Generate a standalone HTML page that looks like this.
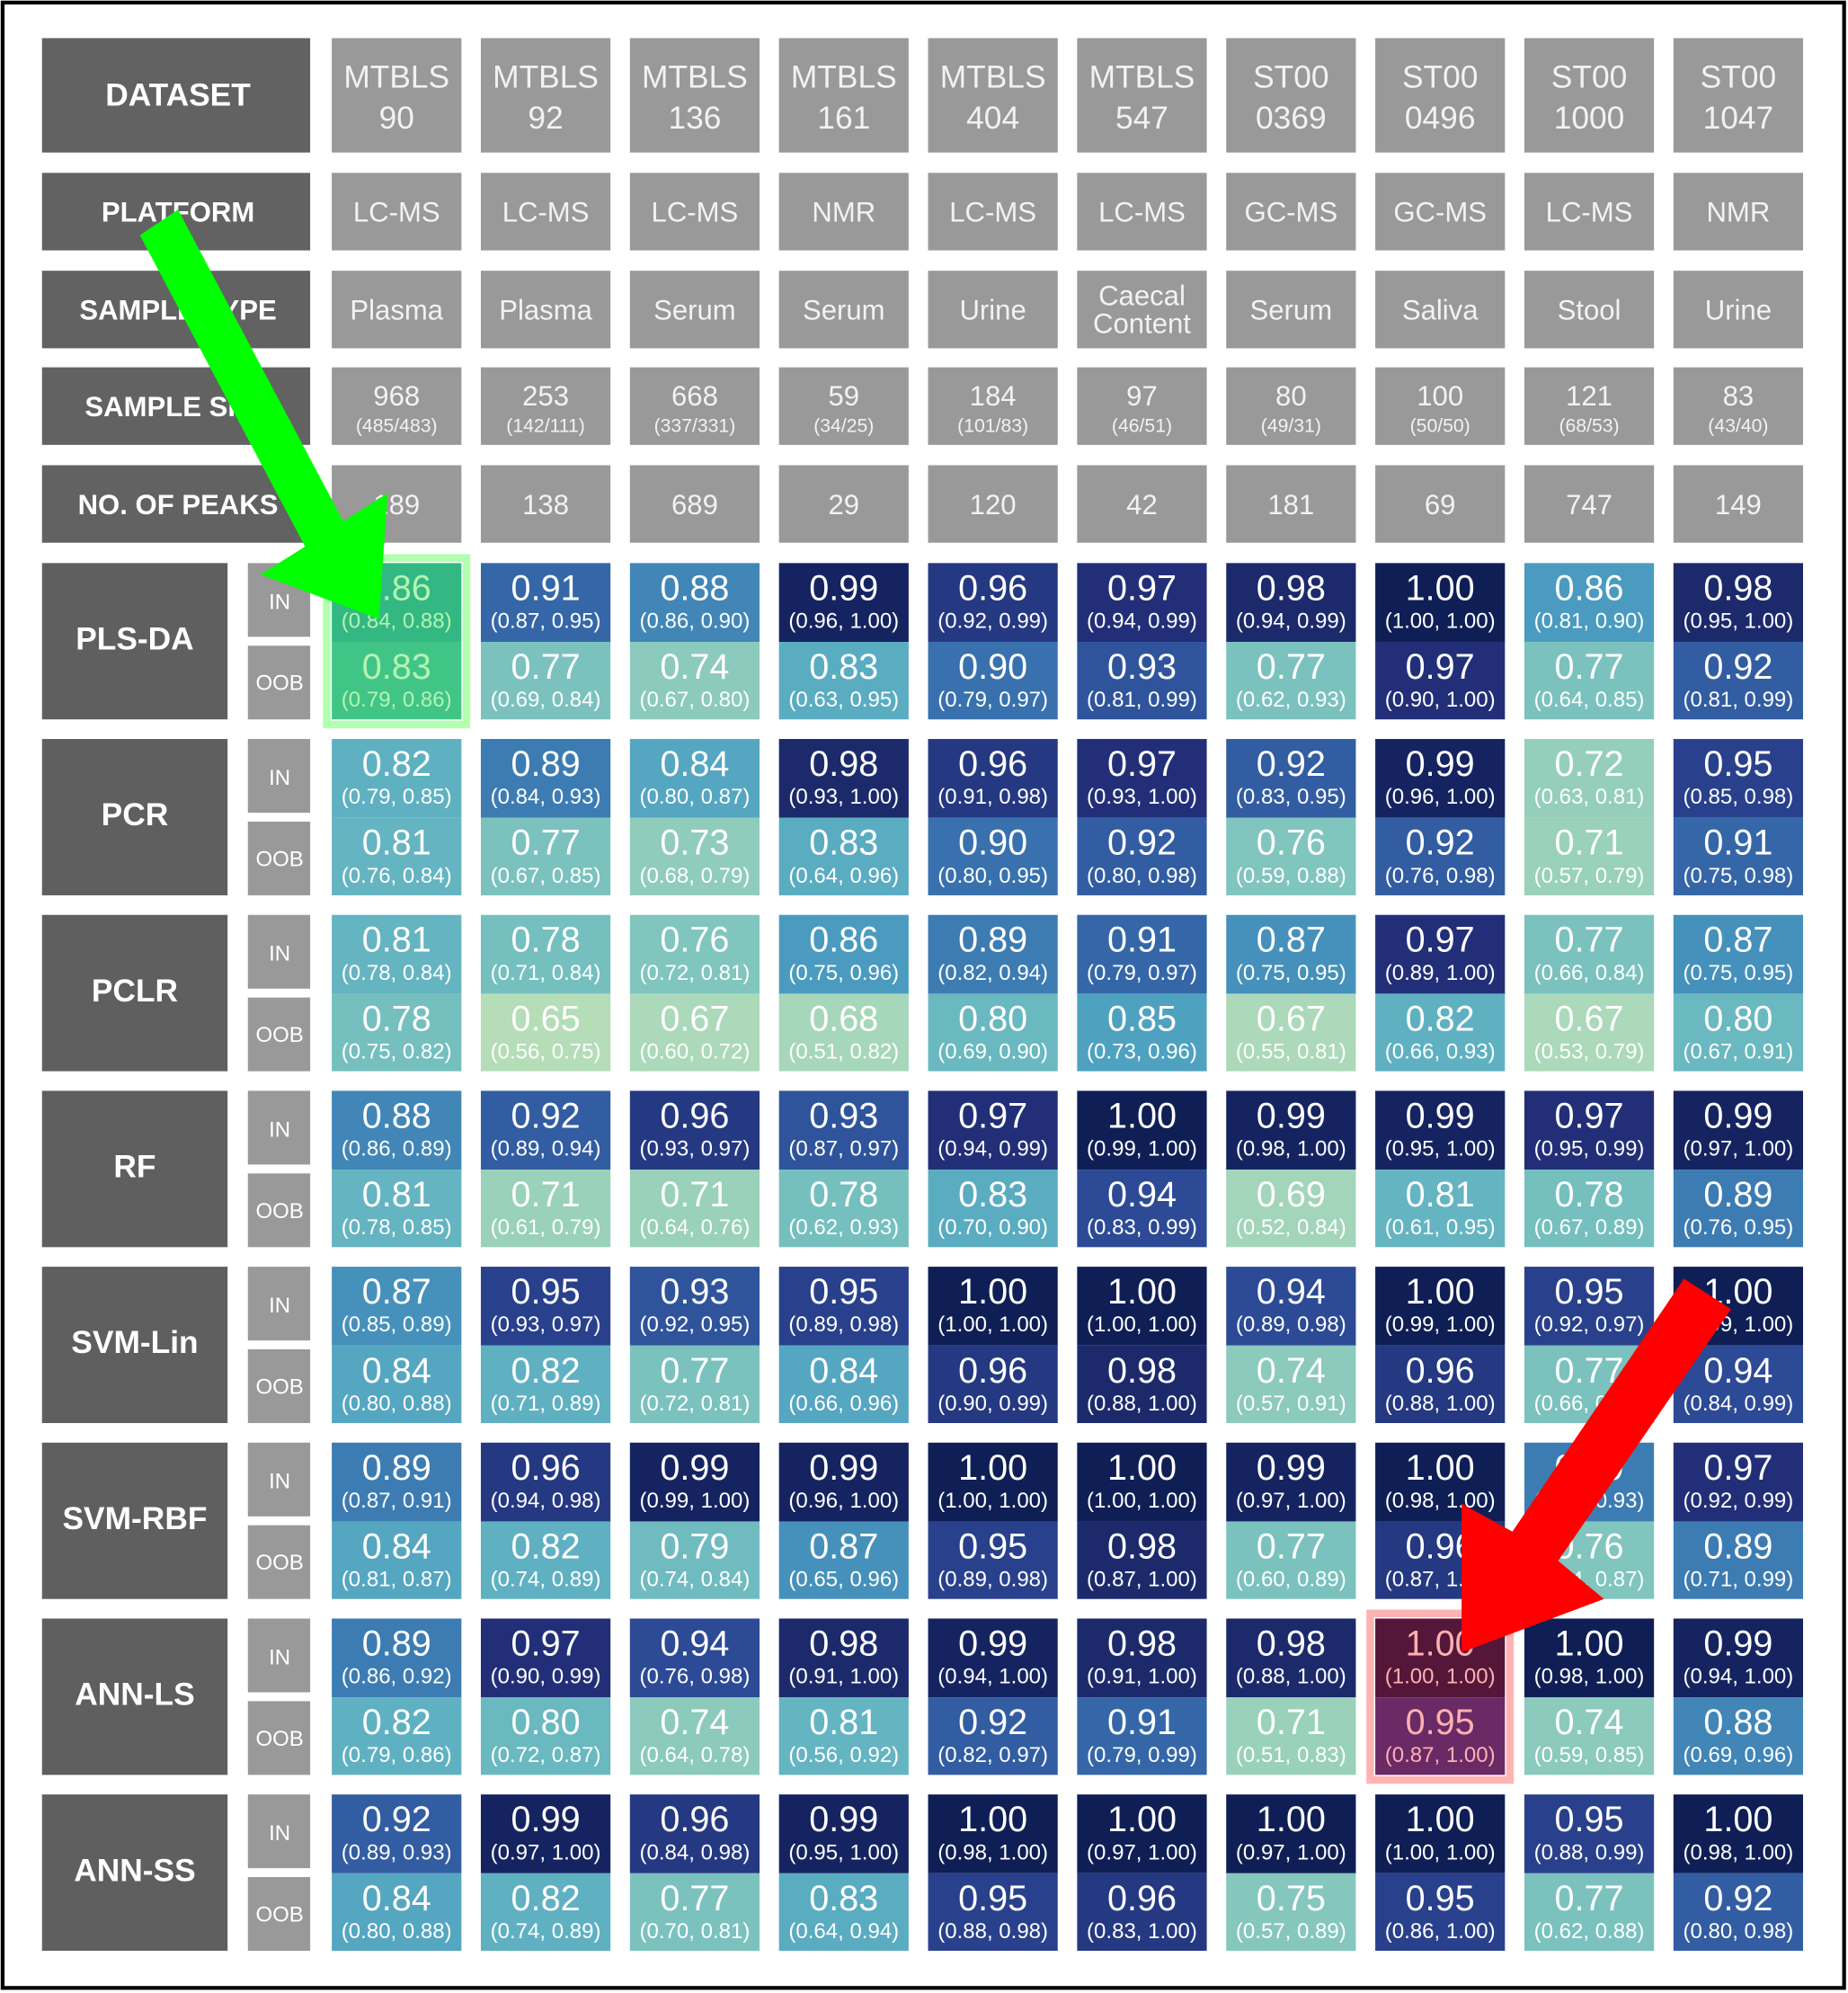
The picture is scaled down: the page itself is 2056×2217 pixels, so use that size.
<!DOCTYPE html>
<html><head><meta charset="utf-8"><title>Model performance table</title>
<style>
html,body{margin:0;padding:0;background:#fff;}
svg{display:block;}
text{font-family:"Liberation Sans",Arial,sans-serif;}
</style></head>
<body>
<svg id="chart" width="2056" height="2217" viewBox="0 0 1454 1568" xmlns="http://www.w3.org/2000/svg"></svg>
<script>
// ---- data ----
const datasets = [["MTBLS","90"],["MTBLS","92"],["MTBLS","136"],["MTBLS","161"],["MTBLS","404"],["MTBLS","547"],["ST00","0369"],["ST00","0496"],["ST00","1000"],["ST00","1047"]];
const platforms = ["LC-MS","LC-MS","LC-MS","NMR","LC-MS","LC-MS","GC-MS","GC-MS","LC-MS","NMR"];
const sampleTypes = [["Plasma"],["Plasma"],["Serum"],["Serum"],["Urine"],["Caecal","Content"],["Serum"],["Saliva"],["Stool"],["Urine"]];
const sampleSizes = ["968","253","668","59","184","97","80","100","121","83"];
const sampleSplits = ["(485/483)","(142/111)","(337/331)","(34/25)","(101/83)","(46/51)","(49/31)","(50/50)","(68/53)","(43/40)"];
const peaks = ["189","138","689","29","120","42","181","69","747","149"];
const models = ["PLS-DA","PCR","PCLR","RF","SVM-Lin","SVM-RBF","ANN-LS","ANN-SS"];

const inMean = [
 [0.86,0.91,0.88,0.99,0.96,0.97,0.98,1.00,0.86,0.98],
 [0.82,0.89,0.84,0.98,0.96,0.97,0.92,0.99,0.72,0.95],
 [0.81,0.78,0.76,0.86,0.89,0.91,0.87,0.97,0.77,0.87],
 [0.88,0.92,0.96,0.93,0.97,1.00,0.99,0.99,0.97,0.99],
 [0.87,0.95,0.93,0.95,1.00,1.00,0.94,1.00,0.95,1.00],
 [0.89,0.96,0.99,0.99,1.00,1.00,0.99,1.00,0.89,0.97],
 [0.89,0.97,0.94,0.98,0.99,0.98,0.98,1.00,1.00,0.99],
 [0.92,0.99,0.96,0.99,1.00,1.00,1.00,1.00,0.95,1.00]];
const inLo = [
 [0.84,0.87,0.86,0.96,0.92,0.94,0.94,1.00,0.81,0.95],
 [0.79,0.84,0.80,0.93,0.91,0.93,0.83,0.96,0.63,0.85],
 [0.78,0.71,0.72,0.75,0.82,0.79,0.75,0.89,0.66,0.75],
 [0.86,0.89,0.93,0.87,0.94,0.99,0.98,0.95,0.95,0.97],
 [0.85,0.93,0.92,0.89,1.00,1.00,0.89,0.99,0.92,0.99],
 [0.87,0.94,0.99,0.96,1.00,1.00,0.97,0.98,0.84,0.92],
 [0.86,0.90,0.76,0.91,0.94,0.91,0.88,1.00,0.98,0.94],
 [0.89,0.97,0.84,0.95,0.98,0.97,0.97,1.00,0.88,0.98]];
const inHi = [
 [0.88,0.95,0.90,1.00,0.99,0.99,0.99,1.00,0.90,1.00],
 [0.85,0.93,0.87,1.00,0.98,1.00,0.95,1.00,0.81,0.98],
 [0.84,0.84,0.81,0.96,0.94,0.97,0.95,1.00,0.84,0.95],
 [0.89,0.94,0.97,0.97,0.99,1.00,1.00,1.00,0.99,1.00],
 [0.89,0.97,0.95,0.98,1.00,1.00,0.98,1.00,0.97,1.00],
 [0.91,0.98,1.00,1.00,1.00,1.00,1.00,1.00,0.93,0.99],
 [0.92,0.99,0.98,1.00,1.00,1.00,1.00,1.00,1.00,1.00],
 [0.93,1.00,0.98,1.00,1.00,1.00,1.00,1.00,0.99,1.00]];
const oobMean = [
 [0.83,0.77,0.74,0.83,0.90,0.93,0.77,0.97,0.77,0.92],
 [0.81,0.77,0.73,0.83,0.90,0.92,0.76,0.92,0.71,0.91],
 [0.78,0.65,0.67,0.68,0.80,0.85,0.67,0.82,0.67,0.80],
 [0.81,0.71,0.71,0.78,0.83,0.94,0.69,0.81,0.78,0.89],
 [0.84,0.82,0.77,0.84,0.96,0.98,0.74,0.96,0.77,0.94],
 [0.84,0.82,0.79,0.87,0.95,0.98,0.77,0.96,0.76,0.89],
 [0.82,0.80,0.74,0.81,0.92,0.91,0.71,0.95,0.74,0.88],
 [0.84,0.82,0.77,0.83,0.95,0.96,0.75,0.95,0.77,0.92]];
const oobLo = [
 [0.79,0.69,0.67,0.63,0.79,0.81,0.62,0.90,0.64,0.81],
 [0.76,0.67,0.68,0.64,0.80,0.80,0.59,0.76,0.57,0.75],
 [0.75,0.56,0.60,0.51,0.69,0.73,0.55,0.66,0.53,0.67],
 [0.78,0.61,0.64,0.62,0.70,0.83,0.52,0.61,0.67,0.76],
 [0.80,0.71,0.72,0.66,0.90,0.88,0.57,0.88,0.66,0.84],
 [0.81,0.74,0.74,0.65,0.89,0.87,0.60,0.87,0.64,0.71],
 [0.79,0.72,0.64,0.56,0.82,0.79,0.51,0.87,0.59,0.69],
 [0.80,0.74,0.70,0.64,0.88,0.83,0.57,0.86,0.62,0.80]];
const oobHi = [
 [0.86,0.84,0.80,0.95,0.97,0.99,0.93,1.00,0.85,0.99],
 [0.84,0.85,0.79,0.96,0.95,0.98,0.88,0.98,0.79,0.98],
 [0.82,0.75,0.72,0.82,0.90,0.96,0.81,0.93,0.79,0.91],
 [0.85,0.79,0.76,0.93,0.90,0.99,0.84,0.95,0.89,0.95],
 [0.88,0.89,0.81,0.96,0.99,1.00,0.91,1.00,0.87,0.99],
 [0.87,0.89,0.84,0.96,0.98,1.00,0.89,1.00,0.87,0.99],
 [0.86,0.87,0.78,0.92,0.97,0.99,0.83,1.00,0.85,0.96],
 [0.88,0.89,0.81,0.94,0.98,1.00,0.89,1.00,0.88,0.98]];

// ---- layout ----
const NS = "http://www.w3.org/2000/svg";
const svg = document.getElementById('chart');
const colX = i => 261 + i * 117.3;
const colW = 102;
const rowY = r => 443 + r * 138.4;
const headRows = [[30,90],[136,61],[213,61],[289,61],[366,61]];
const headLabels = ["DATASET","PLATFORM","SAMPLE TYPE","SAMPLE SIZE","NO. OF PEAKS"];
const headNames = ["dataset","platform","sample-type","sample-size","no-of-peaks"];

function el(tag, attrs, parent) {
  const e = document.createElementNS(NS, tag);
  for (const k in attrs) e.setAttribute(k, attrs[k]);
  (parent || svg).appendChild(e);
  return e;
}
function txt(x, y, s, size, fill, weight, parent) {
  const t = el('text', {x: x, y: y, 'font-size': size, fill: fill, 'text-anchor': 'middle', 'font-weight': weight || 'normal'}, parent);
  t.textContent = s;
  return t;
}
const anchors = [[0.65,[180,221,184]],[0.72,[149,207,188]],[0.77,[123,194,190]],[0.82,[95,177,194]],[0.86,[74,155,191]],[0.90,[56,113,174]],[0.94,[44,74,150]],[0.97,[34,47,120]],[1.00,[15,31,85]]];
function color(v) {
  if (v <= anchors[0][0]) return 'rgb(' + anchors[0][1].join(',') + ')';
  for (let i = 1; i < anchors.length; i++) {
    if (v <= anchors[i][0]) {
      const a = anchors[i-1], b = anchors[i];
      const t = (v - a[0]) / (b[0] - a[0]);
      const c = a[1].map((x, j) => Math.round(x + (b[1][j] - x) * t));
      return 'rgb(' + c.join(',') + ')';
    }
  }
  return 'rgb(15,31,85)';
}
const f = v => v.toFixed(2);

// frame
const frame = el('rect', {x: 2, y: 2, width: 1449, height: 1562, fill: 'none', stroke: '#000', 'stroke-width': 3});



// header rows
headRows.forEach((hr, r) => {
  const [y, h] = hr;
  const g = el('g', {});
  
  
  const lab = el('rect', {x: 33, y: y, width: 211, height: h, fill: '#626262'}, g);
  
  
  txt(140, y + h / 2 + 8, headLabels[r], r === 0 ? 25 : 22, '#fff', 'bold', g);
  for (let i = 0; i < 10; i++) {
    const x = colX(i), cx = x + colW / 2;
    const c = el('rect', {x: x, y: y, width: colW, height: h, fill: '#999999'}, g);
    
    
    const tc = '#f2f2f2';
    if (r === 0) {
      txt(cx, y + 39, datasets[i][0], 25, tc, 'normal', g);
      txt(cx, y + 71, datasets[i][1], 25, tc, 'normal', g);
    } else if (r === 1) {
      txt(cx, y + h / 2 + 8, platforms[i], 22, tc, 'normal', g);
    } else if (r === 2) {
      if (sampleTypes[i].length === 2) {
        txt(cx, y + 27, sampleTypes[i][0], 22, tc, 'normal', g);
        txt(cx, y + 49, sampleTypes[i][1], 22, tc, 'normal', g);
      } else txt(cx, y + h / 2 + 8, sampleTypes[i][0], 22, tc, 'normal', g);
    } else if (r === 3) {
      txt(cx, y + 30, sampleSizes[i], 22, tc, 'normal', g);
      txt(cx, y + 51, sampleSplits[i], 15, tc, 'normal', g);
    } else {
      txt(cx, y + h / 2 + 8, peaks[i], 22, tc, 'normal', g);
    }
  }
});

// model rows
models.forEach((m, r) => {
  const y = rowY(r);
  const g = el('g', {});
  
  
  const lab = el('rect', {x: 33, y: y, width: 146, height: 123, fill: '#5f5f5f'}, g);
  
  
  txt(106, y + 68, m, 25, '#fff', 'bold', g);
  const inBox = el('rect', {x: 195, y: y, width: 49, height: 58, fill: '#999999'}, g);
  
  
  txt(220, y + 36, 'IN', 17, '#fff', 'normal', g);
  const oobBox = el('rect', {x: 195, y: y + 65, width: 49, height: 58, fill: '#999999'}, g);
  
  
  txt(220, y + 100, 'OOB', 17, '#fff', 'normal', g);

  for (let i = 0; i < 10; i++) {
    const x = colX(i), cx = x + colW / 2;
    const green = (r === 0 && i === 0), red = (r === 6 && i === 7);
    let cIn = color(inMean[r][i]), cOob = color(oobMean[r][i]), tc = '#fff';
    if (green) { cIn = '#33b884'; cOob = '#40c587'; tc = '#b3f5b0'; }
    if (red) { cIn = '#541739'; cOob = '#6a2a66'; tc = '#ffb0b0'; }
    if (green || red) {
      const hl = el('rect', {x: x - 4, y: y - 4, width: colW + 8, height: 131, fill: 'none', stroke: green ? '#b3ffb0' : '#ffb3b3', 'stroke-width': 6}, g);
      
      
    }
    const a = el('rect', {x: x, y: y, width: colW, height: 62, fill: cIn}, g);
    
    
    const b = el('rect', {x: x, y: y + 62, width: colW, height: 61, fill: cOob}, g);
    
    
    txt(cx, y + 29, f(inMean[r][i]), 28, tc, 'normal', g);
    txt(cx, y + 51, '(' + f(inLo[r][i]) + ', ' + f(inHi[r][i]) + ')', 17, tc, 'normal', g);
    txt(cx, y + 91, f(oobMean[r][i]), 28, tc, 'normal', g);
    txt(cx, y + 113, '(' + f(oobLo[r][i]) + ', ' + f(oobHi[r][i]) + ')', 17, tc, 'normal', g);
  }
});

// arrows
const ga = el('polygon', {points: '110,185 140,165 270,410 305,388 298,487 205,452 240,430', fill: '#00ff00'});


const ra = el('polygon', {points: '1325,1006 1362,1030 1226,1228 1262,1258 1150,1300 1150,1183 1190,1205', fill: '#ff0000'});


</script>
</body></html>
